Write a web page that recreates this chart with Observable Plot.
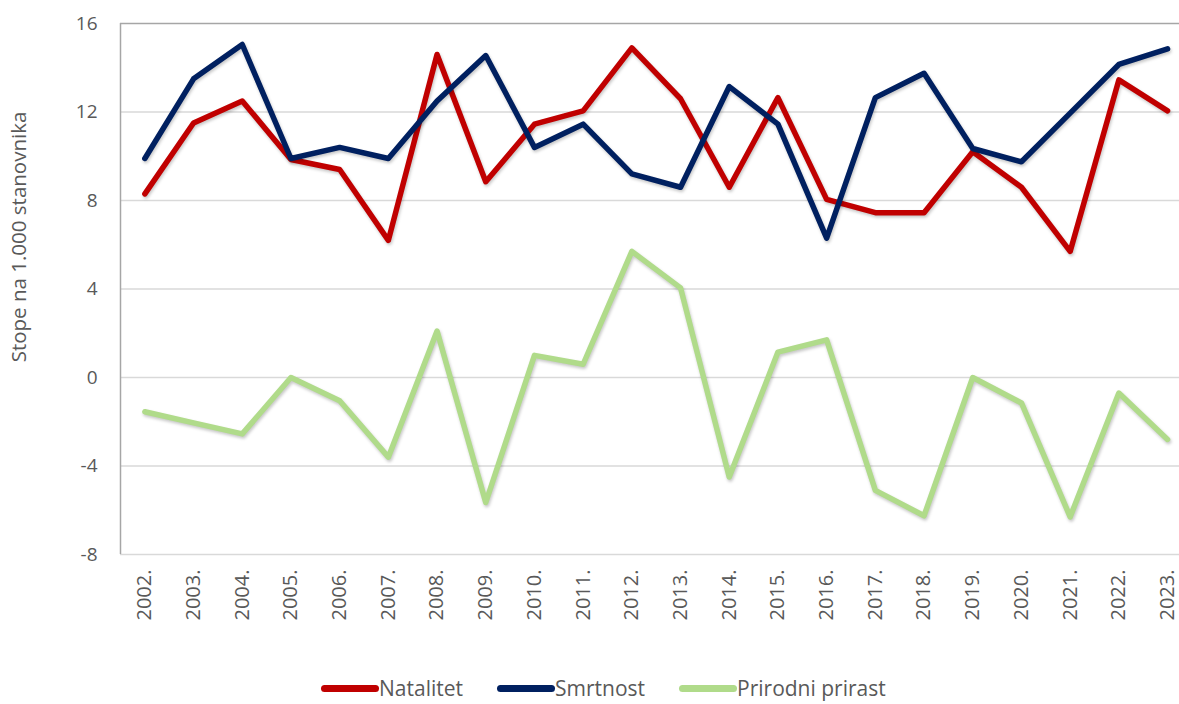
<!DOCTYPE html>
<html>
<head>
<meta charset="utf-8">
<script src="https://cdn.jsdelivr.net/npm/d3@7"></script>
<script src="https://cdn.jsdelivr.net/npm/@observablehq/plot@0.6"></script>
<style>
  body { margin: 0; background: #fff; font-family: "Open Sans", sans-serif; }
  #wrap { position: relative; width: 1179px; height: 704px; }
  #ytitle { position: absolute; left: 18px; top: 237px; transform: translate(-50%, -50%) rotate(-90deg);
            white-space: nowrap; font-size: 20.5px; color: #595959; }
  #legend { position: absolute; top: 674px; left: 321px; display: flex;
            gap: 34px; font-size: 21px; color: #595959; }
  .item { display: flex; align-items: center; }
  .sw { width: 58px; height: 7px; border-radius: 4px; margin-right: 0px; }
  .series path { filter: drop-shadow(1px 2px 1.5px rgba(0,0,0,0.22)); }
</style>
</head>
<body>
<div id="wrap">
  <div id="chart"></div>
  <div id="ytitle">Stope na 1.000 stanovnika</div>
  <div id="legend"></div>
</div>
<script>
const years = [2002,2003,2004,2005,2006,2007,2008,2009,2010,2011,2012,2013,2014,2015,2016,2017,2018,2019,2020,2021,2022,2023];
const yearLabels = ["2002.","2003.","2004.","2005.","2006.","2007.","2008.","2009.","2010.","2011.","2012.","2013.","2014.","2015.","2016.","2017.","2018.","2019.","2020.","2021.","2022.","2023."];
const natalitet = [8.3,11.5,12.5,9.85,9.4,6.2,14.6,8.85,11.45,12.05,14.9,12.6,8.6,12.65,8.05,7.45,7.45,10.2,8.6,5.7,13.45,12.05];
const smrtnost  = [9.9,13.5,15.05,9.9,10.4,9.9,12.5,14.55,10.4,11.45,9.2,8.6,13.15,11.45,6.3,12.65,13.75,10.35,9.75,11.95,14.15,14.85];
const prirast   = [-1.55,-2.05,-2.55,0.0,-1.05,-3.6,2.1,-5.65,1.0,0.6,5.7,4.05,-4.5,1.15,1.7,-5.1,-6.25,0.0,-1.15,-6.3,-0.7,-2.8];
const seriesNames = ["Natalitet","Smrtnost","Prirodni prirast"];
const seriesColors = ["#C00000","#002060","#B0DB8A"];
const yTicks = [-8,-4,0,4,8,12,16];

const seriesValues = [natalitet, smrtnost, prirast];
const data = seriesNames.flatMap((name, s) => years.map((yr, i) => ({year: yr, value: seriesValues[s][i], series: name})));

const W = 1179, mL = 120, mR = 0, step = 48.7;
const x0 = 2002 - 0.5;
const x1 = x0 + (W - mL - mR) / step;

const chart = Plot.plot({
  width: W,
  height: 660,
  marginTop: 23,
  marginBottom: 106,
  marginLeft: mL,
  marginRight: mR,
  style: {fontFamily: "Open Sans, sans-serif", fontSize: "19px", color: "#595959", background: "#fff"},
  x: {domain: [x0, x1], axis: null},
  y: {domain: [-8, 16], axis: null},
  color: {domain: seriesNames, range: seriesColors},
  marks: [
    Plot.ruleY(yTicks.filter(d => d !== 16), {stroke: "#D9D9D9", strokeWidth: 1.5}),
    Plot.ruleY([16], {stroke: "#A6A6A6", strokeWidth: 1.5}),
    Plot.ruleX([x0], {stroke: "#A6A6A6", strokeWidth: 1.5}),
    Plot.axisY(yTicks, {tickSize: 0, tickPadding: 23, label: null, fontSize: 19, fill: "#595959",
      tickFormat: (d) => String(d)}),
    Plot.axisX(years, {tickSize: 0, tickPadding: 15, tickRotate: -90, label: null, fontSize: 20, fill: "#595959",
      tickFormat: (d) => yearLabels[years.indexOf(d)]}),
    Plot.line(data, {x: "year", y: "value", z: "series", stroke: "series", strokeWidth: 5.5,
      strokeLinejoin: "round", strokeLinecap: "round", className: "series"})
  ]
});
document.getElementById("chart").appendChild(chart);

const legend = document.getElementById("legend");
seriesNames.forEach((name, i) => {
  const item = document.createElement("div");
  item.className = "item";
  const sw = document.createElement("span");
  sw.className = "sw";
  sw.style.background = seriesColors[i];
  const t = document.createElement("span");
  t.textContent = name;
  item.appendChild(sw); item.appendChild(t);
  legend.appendChild(item);
});
</script>
</body>
</html>
